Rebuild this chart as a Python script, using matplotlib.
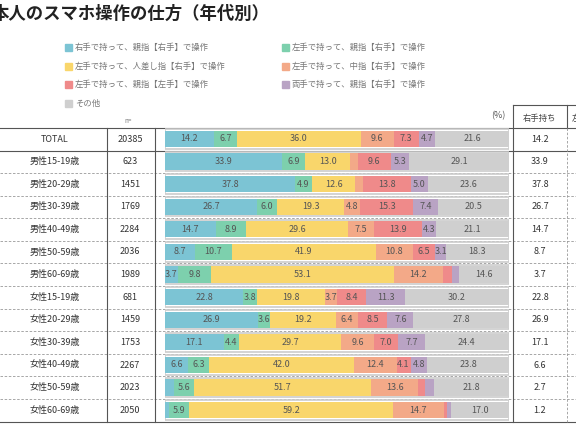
import numpy as np
import matplotlib.pyplot as plt

plt.rcParams['font.family'] = ['Noto Sans CJK JP', 'DejaVu Sans']

# categories and data
rows = ['TOTAL', '男性15-19歳', '男性20-29歳', '男性30-39歳', '男性40-49歳', '男性50-59歳', '男性60-69歳',
        '女性15-19歳', '女性20-29歳', '女性30-39歳', '女性40-49歳', '女性50-59歳', '女性60-69歳']
n_values = [20385, 623, 1451, 1769, 2284, 2036, 1989, 681, 1459, 1753, 2267, 2023, 2050]
series_names = ['右手で持って、親指【右手】で操作', '左手で持って、親指【右手】で操作',
                '左手で持って、人差し指【右手】で操作', '左手で持って、中指【右手】で操作',
                '左手で持って、親指【左手】で操作', '両手で持って、親指【右手】で操作', 'その他']
right_thumb = [14.2, 33.9, 37.8, 26.7, 14.7, 8.7, 3.7, 22.8, 26.9, 17.1, 6.6, 2.7, 1.2]
left_hold_right_thumb = [6.7, 6.9, 4.9, 6.0, 8.9, 10.7, 9.8, 3.8, 3.6, 4.4, 6.3, 5.6, 5.9]
left_hold_index = [36.0, 13.0, 12.6, 19.3, 29.6, 41.9, 53.1, 19.8, 19.2, 29.7, 42.0, 51.7, 59.2]
left_hold_middle = [9.6, 2.2, 2.3, 4.8, 7.5, 10.8, 14.2, 3.7, 6.4, 9.6, 12.4, 13.6, 14.7]
left_thumb = [7.3, 9.6, 13.8, 15.3, 13.9, 6.5, 2.6, 8.4, 8.5, 7.0, 4.1, 2.0, 0.9]
both_hands = [4.7, 5.3, 5.0, 7.4, 4.3, 3.1, 2.0, 11.3, 7.6, 7.7, 4.8, 2.6, 1.1]
other = [21.6, 29.1, 23.6, 20.5, 21.1, 18.3, 14.6, 30.2, 27.8, 24.4, 23.8, 21.8, 17.0]
series = [right_thumb, left_hold_right_thumb, left_hold_index, left_hold_middle,
          left_thumb, both_hands, other]
colors = ['#7cc4d4', '#7dd0ad', '#f9d66b', '#f3a988', '#ef8a8a', '#b9a3c4', '#cfcfcf']

W, H = 576, 430
fig = plt.figure(figsize=(5.76, 4.30), dpi=100)

# overlay axes in pixel coordinates for text and table lines
bg = fig.add_axes([0, 0, 1, 1])
bg.set_xlim(0, W)
bg.set_ylim(H, 0)
bg.axis('off')

bg.text(-8, 14, '本人のスマホ操作の仕方（年代別）', fontsize=12.5, fontweight='bold',
        va='center', ha='left', color='#222222')

# legend (row-major, two columns)
leg_pos = [(75, 47), (292, 47), (75, 66), (292, 66), (75, 84), (292, 84), (75, 103)]
for (x, y), name, c in zip(leg_pos, series_names, colors):
    bg.add_patch(plt.Rectangle((x - 10, y - 3.5), 7, 7, color=c))
    bg.text(x, y, name, fontsize=6, va='center', color='#777777')

row_y = [139 + 22.6 * i for i in range(len(rows))]
bg.text(128, 121, 'n=', fontsize=4.5, ha='center', va='center', color='#777777')
bg.text(505, 116, '(%)', fontsize=6.5, ha='right', va='center', color='#555555')
bg.text(540, 118, '右手持ち', fontsize=6, ha='center', va='center', color='#444444')
bg.text(572, 118, '左手持ち', fontsize=6, ha='left', va='center', color='#444444')

for y, r, n, v in zip(row_y, rows, n_values, right_thumb):
    bg.text(55, y, r, fontsize=6.5, ha='center', va='center', color='#333333')
    bg.text(130, y, str(n), fontsize=6.5, ha='center', va='center', color='#333333')
    bg.text(540, y, f'{v:.1f}', fontsize=6.5, ha='center', va='center', color='#333333')

# table lines
bg.plot([0, W], [128, 128], color='#555555', lw=0.8)
bg.plot([0, W], [151, 151], color='#555555', lw=0.8)
for y in row_y[1:-1]:
    bg.plot([0, W], [y + 11.3, y + 11.3], color='#999999', lw=0.6, ls=(0, (3, 2)))
bg.plot([0, W], [422, 422], color='#555555', lw=0.8)
for x in [107, 155]:
    bg.plot([x, x], [128, 422], color='#555555', lw=0.8)
bg.plot([513, 513], [105, 422], color='#555555', lw=0.8)
bg.plot([567, 567], [105, 128], color='#555555', lw=0.8)
bg.plot([513, W], [105, 105], color='#555555', lw=0.8)
bg.plot([567, 567], [128, 422], color='#999999', lw=0.6, ls=(0, (3, 2)))

# bar axes
x0, x1 = 165, 509
top, bot = 127.7, 421.3
ax = fig.add_axes([x0 / W, 1 - bot / H, (x1 - x0) / W, (bot - top) / H])
ax.set_xlim(0, 100)
ax.set_ylim(len(rows) - 0.5, -0.5)
ax.axis('off')

ypos = np.arange(len(rows))
ax.barh(ypos, [100] * len(rows), left=0, height=0.86, color='white',
        edgecolor='#cccccc', lw=1.2)
left = np.zeros(len(rows))
for vals, c in zip(series, colors):
    vals = np.array(vals)
    ax.barh(ypos, vals, left=left, height=0.72, color=c)
    for y, l, v in zip(ypos, left, vals):
        if v >= 3:
            ax.text(l + v / 2, y, f'{v:.1f}', fontsize=6.5, ha='center', va='center',
                    color='#555555')
    left += vals

fig.savefig('out.png', dpi=100)
